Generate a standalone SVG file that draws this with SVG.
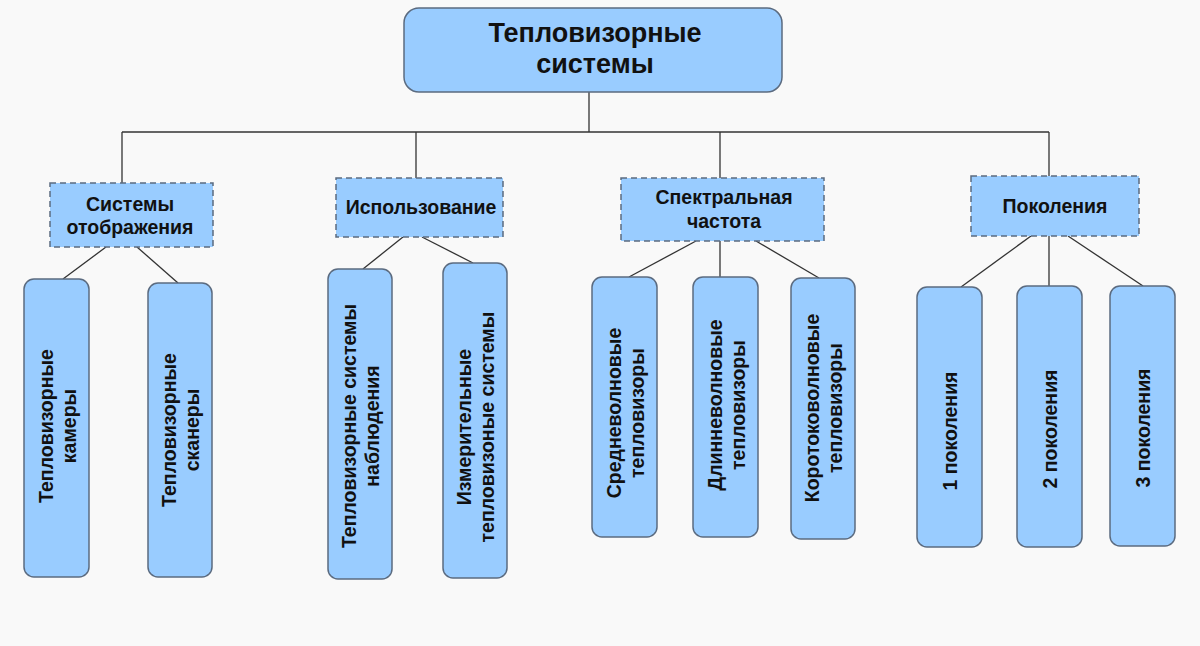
<svg xmlns="http://www.w3.org/2000/svg" width="1200" height="646" viewBox="0 0 1200 646">
<style>
.bg{fill:#f9f9f9}
.root{fill:#99ccff;stroke:#5b6b80;stroke-width:1.5}
.cat{fill:#99ccff;stroke:#5b6b80;stroke-width:1.5;stroke-dasharray:6 4}
.leaf{fill:#99ccff;stroke:#5b6b80;stroke-width:1.5}
text{font-family:"Liberation Sans",Arial,sans-serif;font-weight:bold;fill:#111;text-anchor:middle;dominant-baseline:central}
.t1{font-size:27px}
.t2{font-size:19.5px}
.t3{font-size:19.5px}
#connectors line{stroke:#333;stroke-width:1.3}
</style>
<rect class="bg" x="0" y="0" width="1200" height="646"/>
<g id="connectors">
<line x1="589" y1="92" x2="589" y2="132"/>
<line x1="122" y1="132" x2="1049" y2="132"/>
<line x1="122" y1="132" x2="122" y2="183"/>
<line x1="416" y1="132" x2="416" y2="178"/>
<line x1="720" y1="132" x2="720" y2="178"/>
<line x1="1049" y1="132" x2="1049" y2="176"/>
<line x1="106" y1="247" x2="63" y2="279"/>
<line x1="137" y1="247" x2="178" y2="283"/>
<line x1="403" y1="237" x2="363" y2="269"/>
<line x1="422" y1="237" x2="473" y2="263"/>
<line x1="696" y1="241" x2="629" y2="277"/>
<line x1="720" y1="241" x2="720" y2="277"/>
<line x1="756" y1="241" x2="819" y2="278"/>
<line x1="1031" y1="236" x2="961" y2="287"/>
<line x1="1049" y1="236" x2="1049" y2="286"/>
<line x1="1068" y1="236" x2="1143" y2="286"/>
</g>
<g id="root">
<rect class="root" x="404" y="8" width="378" height="84" rx="15"/>
<text class="t1" x="595" y="33">Тепловизорные</text>
<text class="t1" x="595" y="64">системы</text>
</g>
<g id="cat-display">
<rect class="cat" x="50" y="183" width="163" height="64"/>
<text class="t2" x="130" y="204">Системы</text>
<text class="t2" x="130" y="227">отображения</text>
</g>
<g id="cat-usage">
<rect class="cat" x="336" y="178" width="167" height="59"/>
<text class="t2" x="421" y="207">Использование</text>
</g>
<g id="cat-spectral">
<rect class="cat" x="621" y="178" width="203" height="63"/>
<text class="t2" x="724" y="197">Спектральная</text>
<text class="t2" x="724" y="221">частота</text>
</g>
<g id="cat-generations">
<rect class="cat" x="971" y="176" width="168" height="60"/>
<text class="t2" x="1055" y="206">Поколения</text>
</g>
<g id="leaf-cameras">
<rect class="leaf" x="24" y="279" width="65" height="298" rx="10"/>
<g transform="translate(56.5,426) rotate(-90)"><text class="t3" x="0" y="-11">Тепловизорные</text><text class="t3" x="0" y="12">камеры</text></g>
</g>
<g id="leaf-scanners">
<rect class="leaf" x="148" y="283" width="64" height="294" rx="10"/>
<g transform="translate(180,430) rotate(-90)"><text class="t3" x="0" y="-11">Тепловизорные</text><text class="t3" x="0" y="12">сканеры</text></g>
</g>
<g id="leaf-observation">
<rect class="leaf" x="328" y="269" width="64" height="310" rx="10"/>
<g transform="translate(360,426) rotate(-90)"><text class="t3" x="0" y="-11">Тепловизорные системы</text><text class="t3" x="0" y="12">наблюдения</text></g>
</g>
<g id="leaf-measuring">
<rect class="leaf" x="443" y="263" width="64" height="315" rx="10"/>
<g transform="translate(475,427) rotate(-90)"><text class="t3" x="0" y="-11">Измерительные</text><text class="t3" x="0" y="12">тепловизоные системы</text></g>
</g>
<g id="leaf-mid">
<rect class="leaf" x="592" y="277" width="65" height="260" rx="10"/>
<g transform="translate(624.5,413) rotate(-90)"><text class="t3" x="0" y="-11">Средневолновые</text><text class="t3" x="0" y="12">тепловизоры</text></g>
</g>
<g id="leaf-long">
<rect class="leaf" x="693" y="277" width="65" height="260" rx="10"/>
<g transform="translate(725.5,405) rotate(-90)"><text class="t3" x="0" y="-11">Длинневолновые</text><text class="t3" x="0" y="12">тепловизоры</text></g>
</g>
<g id="leaf-short">
<rect class="leaf" x="791" y="278" width="64" height="261" rx="10"/>
<g transform="translate(823,408) rotate(-90)"><text class="t3" x="0" y="-11">Коротоковолновые</text><text class="t3" x="0" y="12">тепловизоры</text></g>
</g>
<g id="leaf-gen1">
<rect class="leaf" x="917" y="287" width="65" height="260" rx="10"/>
<g transform="translate(949.5,431) rotate(-90)"><text class="t3" x="0" y="0">1 поколения</text></g>
</g>
<g id="leaf-gen2">
<rect class="leaf" x="1017" y="286" width="65" height="261" rx="10"/>
<g transform="translate(1049.5,429) rotate(-90)"><text class="t3" x="0" y="0">2 поколения</text></g>
</g>
<g id="leaf-gen3">
<rect class="leaf" x="1110" y="286" width="65" height="260" rx="10"/>
<g transform="translate(1142.5,428) rotate(-90)"><text class="t3" x="0" y="0">3 поколения</text></g>
</g>
</svg>
